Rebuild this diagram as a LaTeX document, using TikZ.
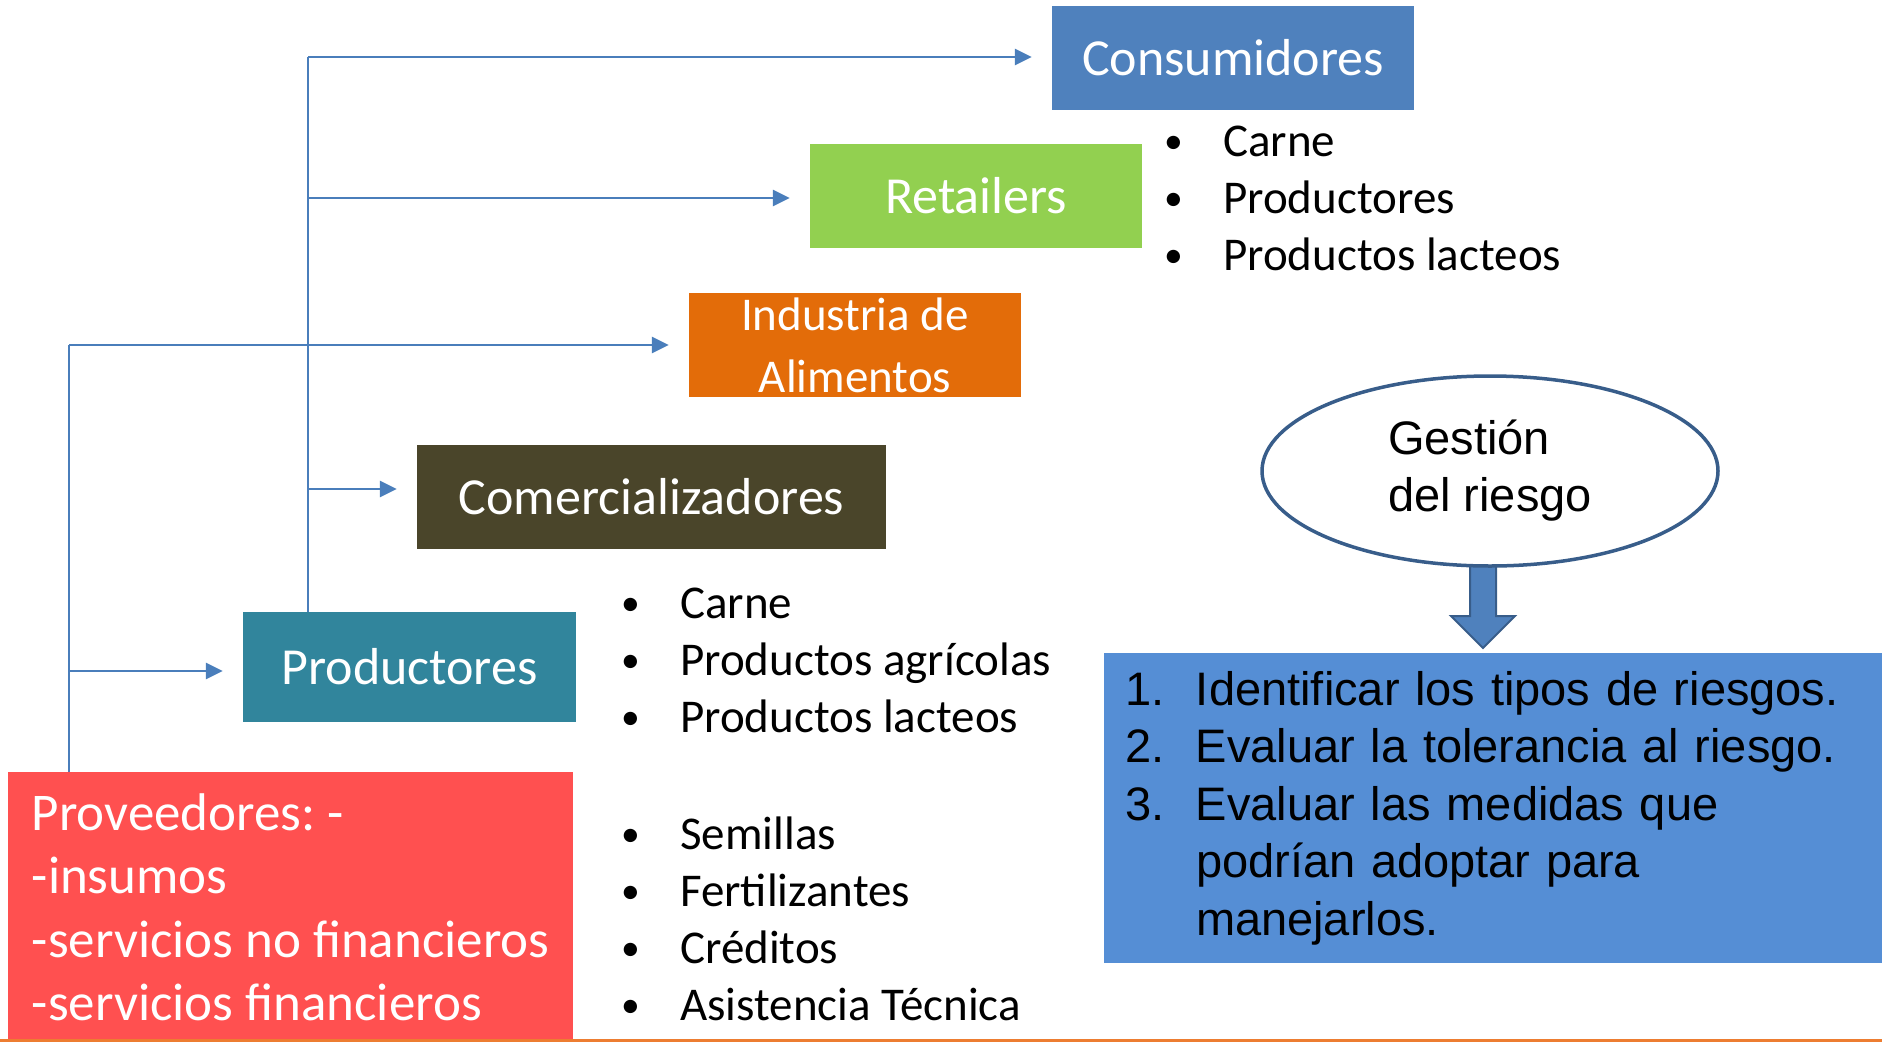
\documentclass[tikz,border=0pt]{standalone}
\usepackage{fontspec}
\usepackage{graphicx}
\setmainfont{Carlito}
\newfontfamily\arialfont{Liberation Sans}
\usetikzlibrary{arrows.meta,shapes.geometric}

\definecolor{consblue}{HTML}{4F81BD}
\definecolor{retailgreen}{HTML}{92D050}
\definecolor{indorange}{HTML}{E36C09}
\definecolor{comolive}{HTML}{4A452A}
\definecolor{prodteal}{HTML}{31859C}
\definecolor{provred}{HTML}{FF5050}
\definecolor{stepsblue}{HTML}{558ED5}
\definecolor{edgeblue}{HTML}{385D8A}
\definecolor{linkblue}{HTML}{4A7EBB}
\definecolor{footorange}{HTML}{ED7D31}

\newcommand{\itembullet}{\makebox[59pt][l]{\raisebox{2.5pt}{\scalebox{0.8}{•}}}}
\newcommand{\stepnum}[1]{\makebox[71pt][l]{#1}}

\tikzset{
  stage/.style={text=white, inner sep=0pt, minimum height=104pt,
    font=\fontsize{52}{62}\selectfont},
  link/.style={linkblue, line width=2.75pt},
  flow/.style={link, -{Triangle[length=17pt,width=16pt]}, shorten >=20pt},
  items/.style={anchor=base west, align=left, inner sep=0pt,
    font=\fontsize{47}{57}\selectfont},
}

\begin{document}
\begin{tikzpicture}[x=1pt,y=-1pt]
\useasboundingbox (0,0) rectangle (1882,1042);

% chain of actors
\node[stage, fill=consblue, minimum width=362pt] (cons) at (1233,58) {Consumidores};
\node[stage, fill=retailgreen, minimum width=332pt] (ret) at (976,196) {Retailers};
\node[stage, fill=indorange, minimum width=332pt, align=center,
  font=\fontsize{47}{62}\selectfont] (ind) at (855,345) {Industria de\\Alimentos};
\node[stage, fill=comolive, minimum width=469pt] (com) at (651.5,497) {Comercializadores};
\node[stage, fill=prodteal, minimum width=333pt, minimum height=110pt] (prod) at (409.5,667) {Productores};
\node[stage, fill=provred, anchor=north west, align=left,
  minimum width=565pt, minimum height=270pt,
  font=\fontsize{53}{63.5}\selectfont\frenchspacing]
  (prov) at (8,772) {Proveedores: -\\-insumos\\-servicios no financieros\\-servicios financieros};

% lists (anchored on their last line)
\node[items] (consitems) at (1164,270)
  {\itembullet Carne\\\itembullet Productores\\\itembullet Productos lacteos};
\node[items] (proditems) at (621,732)
  {\itembullet Carne\\\itembullet Productos agrícolas\\\itembullet Productos lacteos};
\node[items] (provitems) at (621,1020)
  {\itembullet Semillas\\\itembullet Fertilizantes\\\itembullet Créditos\\\itembullet Asistencia Técnica};

% connectors
\coordinate (lefttop) at (69,345);
\coordinate (leftmid) at (69,671);
\coordinate (midtop) at (308,57);
\coordinate (midret) at (308,198);
\coordinate (midcom) at (308,489);

\draw[link] (prov.north -| lefttop) -- (lefttop);
\draw[flow] (lefttop) -- (ind.west |- lefttop);
\draw[flow] (leftmid) -- (prod.west |- leftmid);
\draw[link] (prod.north -| midtop) -- (midtop);
\draw[flow] (midtop) -- (cons.west |- midtop);
\draw[flow] (midret) -- (ret.west |- midret);
\draw[flow] (midcom) -- (com.west |- midcom);

% risk management
\draw[edgeblue, line width=2pt, fill=consblue]
  (1470,560) -- (1496,560) -- (1496,616) -- (1515,616) -- (1483,648)
  -- (1451,616) -- (1470,616) -- cycle;
\node[ellipse, draw=edgeblue, line width=3.5pt, fill=white, inner sep=0pt,
  minimum width=456pt, minimum height=190pt, align=left,
  font=\arialfont\fontsize{47}{57}\selectfont] (gest) at (1490,471) {Gestión\\del riesgo};
\node[fill=stepsblue, inner xsep=21pt, inner ysep=0pt, text width=736pt,
  minimum height=310pt, align=left, font=\arialfont\fontsize{47}{57.5}\selectfont]
  (steps) at (1493,808)
  {\stepnum{1.}Identificar los tipos de riesgos.\\
   \stepnum{2.}Evaluar la tolerancia al riesgo.\\
   \stepnum{3.}Evaluar las medidas que\\
   \hspace*{71pt}podrían adoptar para\\
   \hspace*{71pt}manejarlos.};

\draw[footorange, line width=3pt] (0,1040.5) -- (1882,1040.5);
\end{tikzpicture}
\end{document}
